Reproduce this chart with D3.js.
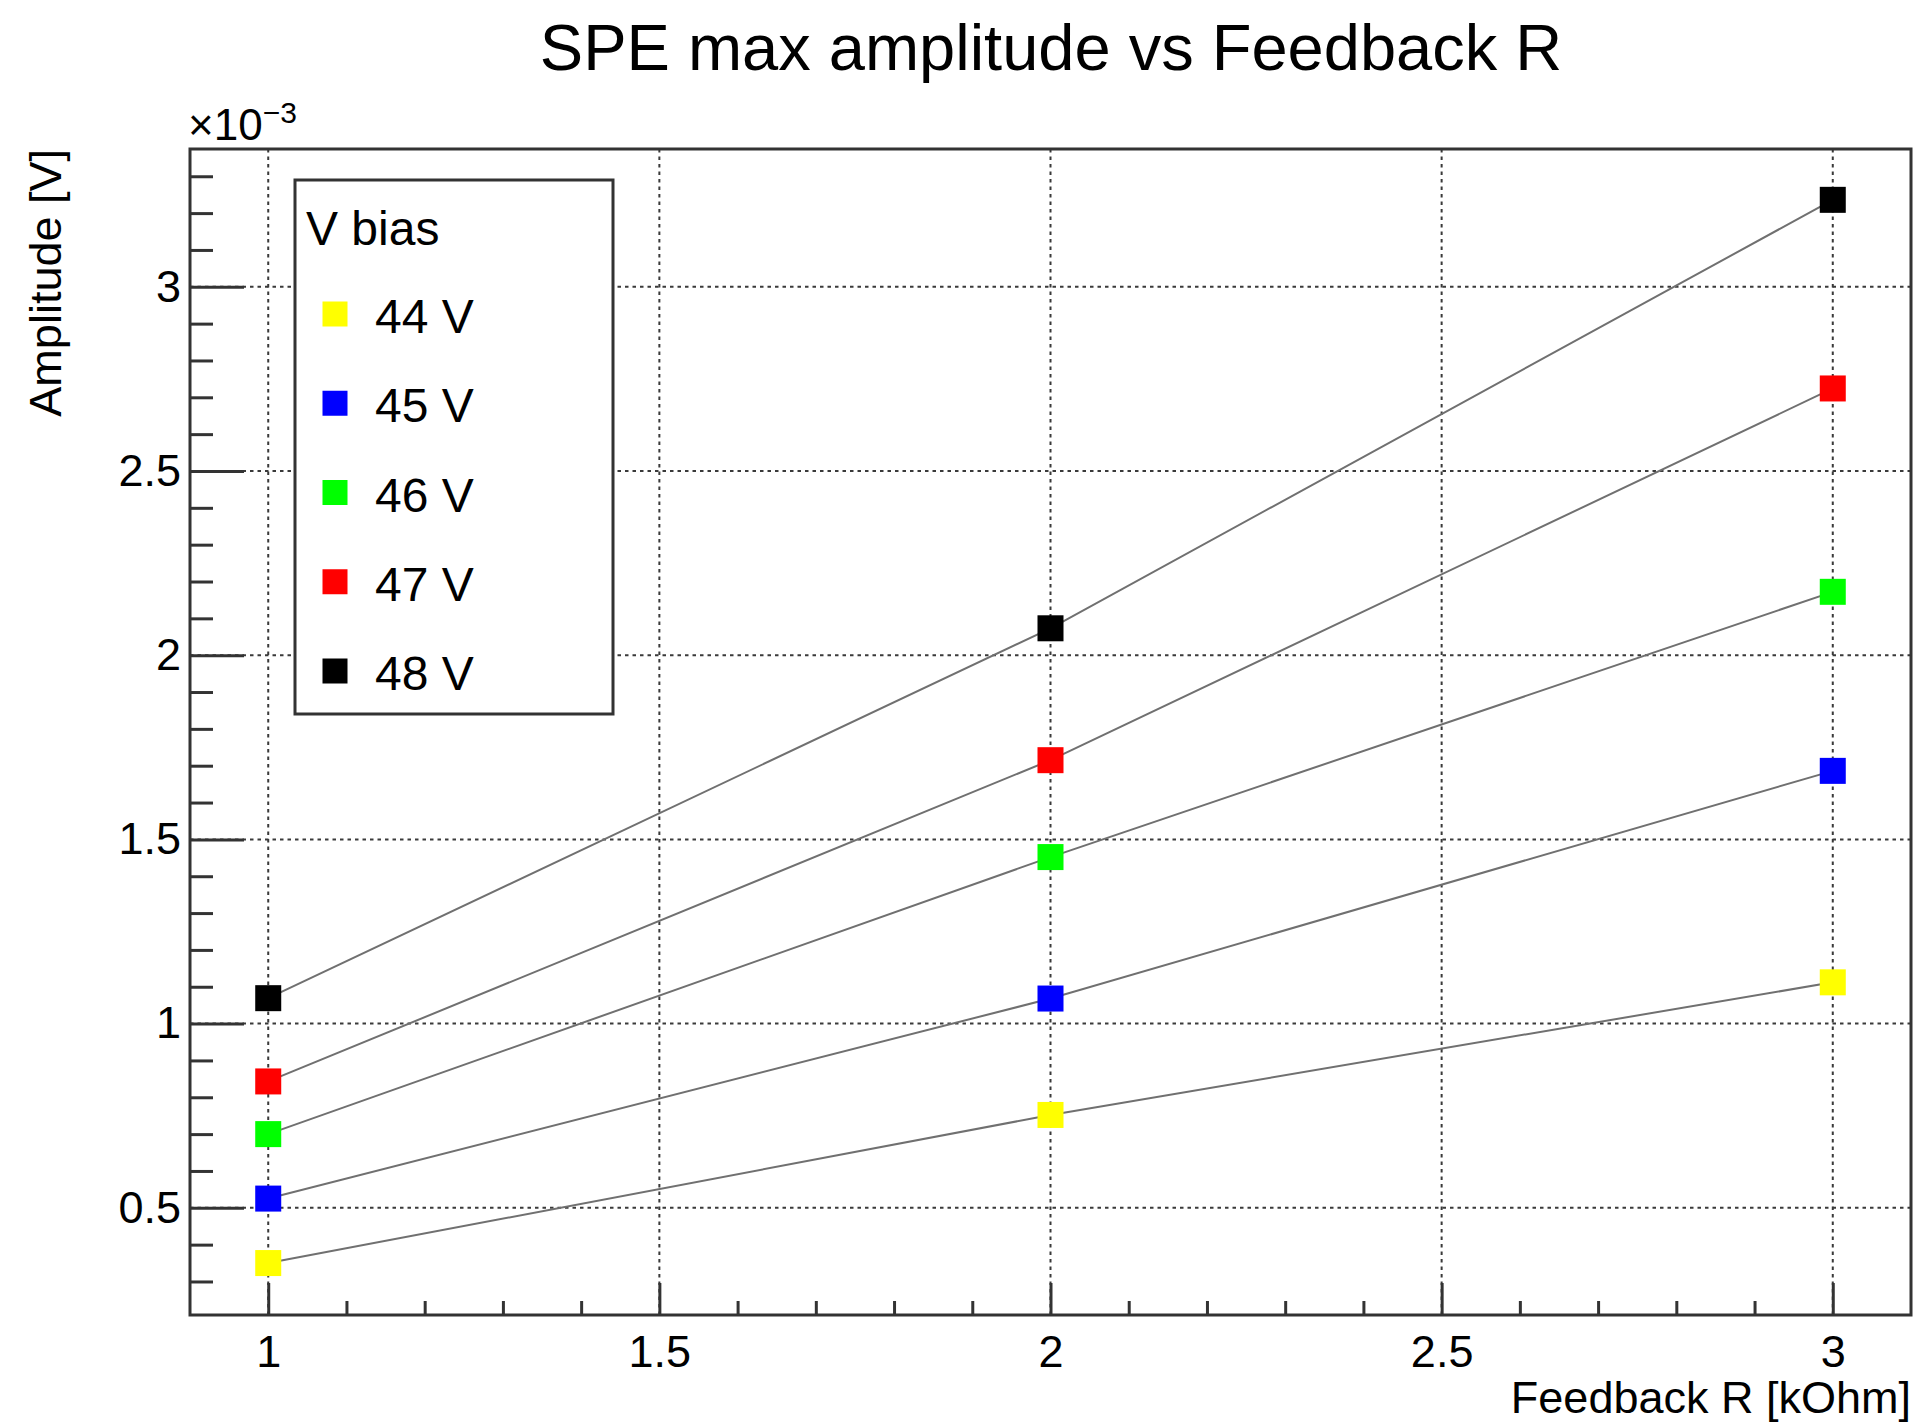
<!DOCTYPE html>
<html>
<head>
<meta charset="utf-8">
<script src="https://cdn.jsdelivr.net/npm/d3@7"></script>
<style>
  html, body { margin: 0; padding: 0; background: #fff; }
  svg { display: block; }
  text { font-family: "Liberation Sans", Arial, Helvetica, sans-serif; fill: #000; }
</style>
</head>
<body>
<svg id="chart" width="1917" height="1424"></svg>
<script>
// ---- data (amplitude in units of 1e-3 V) ----
const feedbackR = [1, 2, 3];
const seriesNames = ["44 V", "45 V", "46 V", "47 V", "48 V"];
const seriesColors = ["#ffff00", "#0000ff", "#00ff00", "#ff0000", "#000000"];
const amp44 = [0.350, 0.752, 1.112];
const amp45 = [0.525, 1.068, 1.686];
const amp46 = [0.700, 1.452, 2.172];
const amp47 = [0.843, 1.715, 2.724];
const amp48 = [1.069, 2.073, 3.236];
const seriesValues = [amp44, amp45, amp46, amp47, amp48];
const xTickValues = [1, 1.5, 2, 2.5, 3];
const xTickLabels = ["1", "1.5", "2", "2.5", "3"];
const yTickValues = [0.5, 1, 1.5, 2, 2.5, 3];
const yTickLabels = ["0.5", "1", "1.5", "2", "2.5", "3"];

// ---- layout ----
const L = 190, R = 1911, T = 149, B = 1315;
const svg = d3.select("#chart");
const x = d3.scaleLinear().domain([0.9, 3.1]).range([L, R]);
const y = d3.scaleLinear().domain([0.209, 3.374]).range([B, T]);
const frameColor = "#333";

// grid
const grid = svg.append("g");
grid.selectAll("line.gx").data(xTickValues).join("line")
  .attr("x1", d => x(d)).attr("x2", d => x(d)).attr("y1", T).attr("y2", B)
  .attr("stroke", "#3a3a3a").attr("stroke-width", 2).attr("stroke-dasharray", "3.5,4");
grid.selectAll("line.gy").data(yTickValues).join("line")
  .attr("y1", d => y(d)).attr("y2", d => y(d)).attr("x1", L).attr("x2", R)
  .attr("stroke", "#3a3a3a").attr("stroke-width", 2).attr("stroke-dasharray", "3.5,4");

// axes: minor ticks
const xMinor = x.ticks(22).filter(v => !xTickValues.some(m => Math.abs(m - v) < 1e-9) && v > 0.95 && v < 3.05);
const yMinor = y.ticks(32).filter(v => !yTickValues.some(m => Math.abs(m - v) < 1e-9));

const xAxisMinor = svg.append("g").attr("transform", `translate(0,${B})`)
  .call(d3.axisBottom(x).tickValues(xMinor).tickSizeInner(-14).tickSizeOuter(0).tickFormat(""));
const xAxisMajor = svg.append("g").attr("transform", `translate(0,${B})`)
  .call(d3.axisBottom(x).tickValues(xTickValues).tickSizeInner(-32).tickSizeOuter(0).tickPadding(20)
    .tickFormat((d, i) => xTickLabels[i]));
const yAxisMinor = svg.append("g").attr("transform", `translate(${L},0)`)
  .call(d3.axisLeft(y).tickValues(yMinor).tickSizeInner(-23).tickSizeOuter(0).tickFormat(""));
const yAxisMajor = svg.append("g").attr("transform", `translate(${L},0)`)
  .call(d3.axisLeft(y).tickValues(yTickValues).tickSizeInner(-54).tickSizeOuter(0).tickPadding(9)
    .tickFormat((d, i) => yTickLabels[i]));

[xAxisMinor, xAxisMajor, yAxisMinor, yAxisMajor].forEach(g => {
  g.select(".domain").remove();
  g.selectAll(".tick line").attr("stroke", frameColor).attr("stroke-width", 3);
  g.selectAll(".tick text").attr("font-size", 45).attr("fill", "#000")
    .style("font-family", '"Liberation Sans", Arial, Helvetica, sans-serif');
});

// series lines
const line = d3.line().x((d, i) => x(feedbackR[i])).y(d => y(d));
svg.append("g").selectAll("path").data(seriesValues).join("path")
  .attr("d", d => line(d)).attr("fill", "none").attr("stroke", "#707070").attr("stroke-width", 2);

// markers
const MS = 26;
seriesValues.forEach((vals, si) => {
  svg.append("g").selectAll("rect").data(vals).join("rect")
    .attr("x", (d, i) => x(feedbackR[i]) - MS / 2)
    .attr("y", d => y(d) - MS / 2)
    .attr("width", MS).attr("height", MS)
    .attr("fill", seriesColors[si]);
});

// frame
svg.append("rect").attr("x", L).attr("y", T).attr("width", R - L).attr("height", B - T)
  .attr("fill", "none").attr("stroke", frameColor).attr("stroke-width", 3);

// title
svg.append("text").attr("x", 1051).attr("y", 70).attr("text-anchor", "middle")
  .attr("font-size", 65).text("SPE max amplitude vs Feedback R");

// axis titles
svg.append("text").attr("x", 1911).attr("y", 1413).attr("text-anchor", "end")
  .attr("font-size", 45).text("Feedback R [kOhm]");
svg.append("text").attr("transform", `translate(61,${T}) rotate(-90)`).attr("text-anchor", "end")
  .attr("font-size", 45).text("Amplitude [V]");

// exponent label
const ex = svg.append("text").attr("x", 188).attr("y", 140).attr("font-size", 44);
ex.append("tspan").text("×10");
ex.append("tspan").attr("font-size", 30).attr("dy", -17).text("−3");

// legend
const lg = svg.append("g");
lg.append("rect").attr("x", 295).attr("y", 180).attr("width", 318).attr("height", 534)
  .attr("fill", "#fff").attr("stroke", frameColor).attr("stroke-width", 3);
lg.append("text").attr("x", 306).attr("y", 245).attr("font-size", 48).text("V bias");
const rowY = d3.scalePoint().domain(seriesNames).range([333, 690]);
lg.selectAll("rect.lm").data(seriesNames).join("rect").attr("class", "lm")
  .attr("x", 335 - 12.5).attr("y", d => rowY(d) - 19 - 12.5)
  .attr("width", 25).attr("height", 25)
  .attr("fill", (d, i) => seriesColors[i]);
lg.selectAll("text.lt").data(seriesNames).join("text").attr("class", "lt")
  .attr("x", 375).attr("y", d => rowY(d)).attr("font-size", 48).text(d => d);
</script>
</body>
</html>
